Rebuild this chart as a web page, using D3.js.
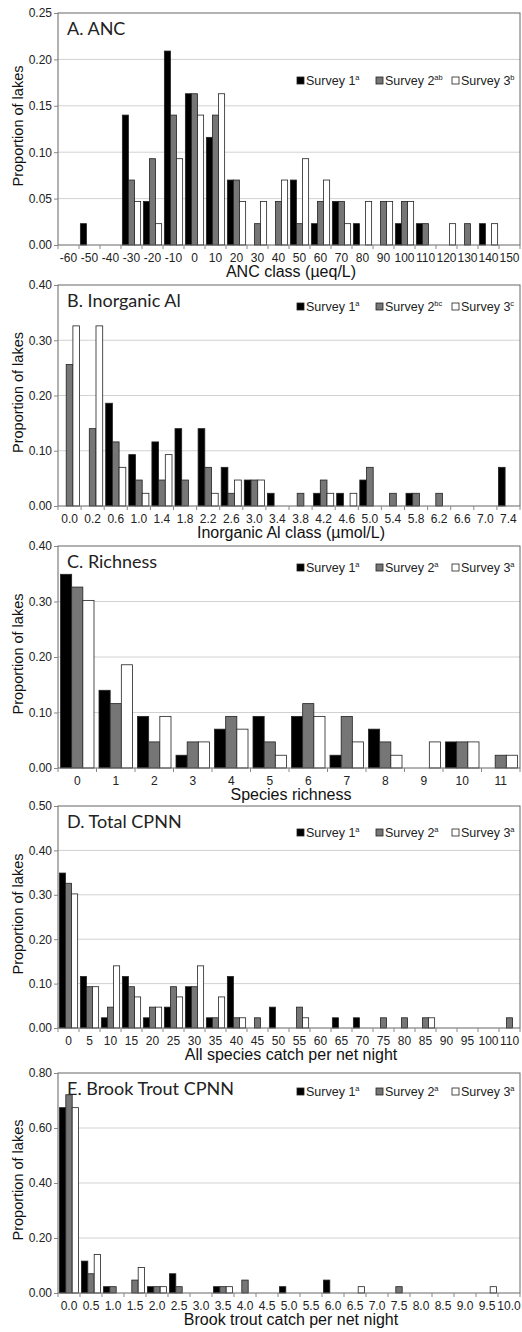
<!DOCTYPE html>
<html><head><meta charset="utf-8">
<script src="https://cdn.jsdelivr.net/npm/d3@7"></script>
<style>
body{margin:0;background:#fff;}
svg{display:block;font-family:"Liberation Sans",Arial,sans-serif;}
</style></head><body>
<svg id="chart" width="522" height="1332"></svg>
<script>
// ---- A. ANC ----
const ancClasses = ['-60','-50','-40','-30','-20','-10','0','10','20','30','40','50','60','70','80','90','100','110','120','130','140','150'];
const ancS1 = [0,.023,0,.140,.047,.209,.163,.116,.070,0,0,.070,.023,.047,.023,0,.023,.023,0,0,.023,0];
const ancS2 = [0,0,0,.070,.093,.140,.163,.140,.070,.023,.047,.023,.047,.047,0,.047,.047,.023,0,.023,0,0];
const ancS3 = [0,0,0,.047,.023,.093,.140,.163,.047,.047,.070,.093,.070,.023,.047,.047,.047,0,.023,0,.023,0];
const ancTicks = [0,.05,.10,.15,.20,.25];
const ancSup = ['a','ab','b'];

// ---- B. Inorganic Al ----
const alClasses = ['0.0','0.2','0.6','1.0','1.4','1.8','2.2','2.6','3.0','3.4','3.8','4.2','4.6','5.0','5.4','5.8','6.2','6.6','7.0','7.4'];
const alS1 = [0,0,.186,.093,.116,.140,.140,.070,.047,.023,0,.023,.023,.047,0,.023,0,0,0,.070];
const alS2 = [.256,.140,.116,.047,.047,.047,.070,.023,.047,0,.023,.047,0,.070,.023,.023,.023,0,0,0];
const alS3 = [.326,.326,.070,.023,.093,0,.023,.047,.047,0,0,.023,.023,0,0,0,0,0,0,0];
const alTicks = [0,.10,.20,.30,.40];
const alSup = ['a','bc','c'];

// ---- C. Richness ----
const richClasses = ['0','1','2','3','4','5','6','7','8','9','10','11'];
const richS1 = [.349,.140,.093,.023,.070,.093,.093,.023,.070,0,.047,0];
const richS2 = [.326,.116,.047,.047,.093,.047,.116,.093,.047,0,.047,.023];
const richS3 = [.302,.186,.093,.047,.070,.023,.093,.047,.023,.047,.047,.023];
const richTicks = [0,.10,.20,.30,.40];
const richSup = ['a','a','a'];

// ---- D. Total CPNN ----
const cpnnClasses = ['0','5','10','15','20','25','30','35','40','45','50','55','60','65','70','75','80','85','90','95','100','110'];
const cpnnS1 = [.349,.116,.023,.116,.023,.047,.093,.023,.116,0,.047,0,0,.023,.023,0,0,0,0,0,0,0];
const cpnnS2 = [.326,.093,.047,.093,.047,.093,.093,.023,.023,.023,0,.047,0,0,0,.023,.023,.023,0,0,0,.023];
const cpnnS3 = [.302,.093,.140,.070,.047,.070,.140,.070,.023,0,0,.023,0,0,0,0,0,.023,0,0,0,0];
const cpnnTicks = [0,.10,.20,.30,.40,.50];
const cpnnSup = ['a','a','a'];

// ---- E. Brook Trout CPNN ----
const troutClasses = ['0.0','0.5','1.0','1.5','2.0','2.5','3.0','3.5','4.0','4.5','5.0','5.5','6.0','6.5','7.0','7.5','8.0','8.5','9.0','9.5','10.0'];
const troutS1 = [.674,.116,.023,0,.023,.070,0,.023,0,0,.023,0,.047,0,0,0,0,0,0,0,0];
const troutS2 = [.721,.070,.023,.047,.023,.023,0,.023,.047,0,0,0,0,0,0,.023,0,0,0,0,0];
const troutS3 = [.674,.140,0,.093,.023,0,0,.023,0,0,0,0,0,.023,0,0,0,0,0,.023,0];
const troutTicks = [0,.20,.40,.60,.80];
const troutSup = ['a','a','a'];

const surveyNames = ['Survey 1','Survey 2','Survey 3'];

const panels = [
  { title: 'A. ANC', xLabel: 'ANC class (µeq/L)', cats: ancClasses, series: [ancS1, ancS2, ancS3], ticks: ancTicks, sup: ancSup, top: 13, bottom: 245, legY: 81 },
  { title: 'B. Inorganic Al', xLabel: 'Inorganic Al class (µmol/L)', cats: alClasses, series: [alS1, alS2, alS3], ticks: alTicks, sup: alSup, top: 285, bottom: 506, legY: 307 },
  { title: 'C. Richness', xLabel: 'Species richness', cats: richClasses, series: [richS1, richS2, richS3], ticks: richTicks, sup: richSup, top: 546, bottom: 768, legY: 568 },
  { title: 'D. Total CPNN', xLabel: 'All species catch per net night', cats: cpnnClasses, series: [cpnnS1, cpnnS2, cpnnS3], ticks: cpnnTicks, sup: cpnnSup, top: 806, bottom: 1028, legY: 833 },
  { title: 'E. Brook Trout CPNN', xLabel: 'Brook trout catch per net night', cats: troutClasses, series: [troutS1, troutS2, troutS3], ticks: troutTicks, sup: troutSup, top: 1073, bottom: 1293, legY: 1092 },
];

const svg = d3.select('#chart');
const L = 58, R = 520;
const fills = ['#000', '#767676', '#fff'];
const legX = [297, 376, 452];

panels.forEach(p => {
  const x = d3.scaleBand().domain(p.cats).range([L, R]);
  const xs = d3.scaleBand().domain([0, 1, 2]).range([0, x.bandwidth()]).paddingOuter(0.224);
  const y = d3.scaleLinear().domain([0, p.ticks[p.ticks.length - 1]]).range([p.bottom, p.top]);
  const g = svg.append('g');

  // grid
  g.append('g').selectAll('line').data(p.ticks.slice(1, -1)).join('line')
    .attr('x1', L).attr('x2', R).attr('y1', d => y(d)).attr('y2', d => y(d))
    .attr('stroke', '#d2d2d2');

  // bars
  p.series.forEach((s, i) => {
    g.append('g').selectAll('rect')
      .data(p.cats.map((c, j) => ({ c, v: s[j] })).filter(d => d.v > 0))
      .join('rect')
        .attr('x', d => x(d.c) + xs(i)).attr('width', xs.bandwidth())
        .attr('y', d => y(d.v)).attr('height', d => y(0) - y(d.v))
        .attr('fill', fills[i]).attr('stroke', '#222').attr('stroke-width', 0.8);
  });

  // frame
  g.append('rect').attr('x', L).attr('y', p.top).attr('width', R - L).attr('height', p.bottom - p.top)
    .attr('fill', 'none').attr('stroke', '#666');

  // y axis
  g.append('g').attr('transform', `translate(${L},0)`)
    .call(d3.axisLeft(y).tickValues(p.ticks).tickFormat(d3.format('.2f')).tickSize(4).tickPadding(2))
    .call(a => a.select('.domain').remove())
    .call(a => a.selectAll('line').attr('stroke', '#888'))
    .call(a => a.selectAll('text').attr('font-size', 12).attr('fill', '#222').attr('font-family', null));

  // x axis: labels at band centres, ticks at band edges
  g.append('g').attr('transform', `translate(0,${p.bottom})`)
    .call(d3.axisBottom(x).tickSize(0).tickPadding(8.5))
    .call(a => a.select('.domain').remove())
    .call(a => a.selectAll('text').attr('font-size', 12).attr('fill', '#222').attr('font-family', null));
  g.append('g').selectAll('line').data(p.cats.map(c => x(c)).concat([R])).join('line')
    .attr('x1', d => d).attr('x2', d => d).attr('y1', p.bottom).attr('y2', p.bottom + 4)
    .attr('stroke', '#888');

  // titles
  g.append('text').attr('x', 67).attr('y', p.top + 22)
    .attr('font-family', 'Lato, "Open Sans", sans-serif').attr('font-size', 18).attr('fill', '#222')
    .text(p.title);
  g.append('text').attr('x', (L + R) / 2 + 2).attr('y', p.bottom + 32).attr('text-anchor', 'middle')
    .attr('font-size', 16).attr('fill', '#111').text(p.xLabel);
  g.append('text').attr('transform', `translate(23,${(p.top + p.bottom) / 2 - 3}) rotate(-90)`)
    .attr('text-anchor', 'middle').attr('font-size', 14.5).attr('fill', '#111').text('Proportion of lakes');

  // legend
  const leg = g.append('g').selectAll('g').data(surveyNames).join('g')
    .attr('transform', (d, i) => `translate(${legX[i]},${p.legY})`);
  leg.append('rect').attr('x', 0).attr('y', -4).attr('width', 7).attr('height', 7)
    .attr('fill', (d, i) => fills[i]).attr('stroke', '#222').attr('stroke-width', 0.8);
  const lt = leg.append('text').attr('x', 9).attr('y', 4).attr('font-size', 12.5).attr('fill', '#222');
  lt.append('tspan').text(d => d);
  lt.append('tspan').attr('dy', -5).attr('font-size', 7.5).text((d, i) => p.sup[i]);
});
</script>
</body></html>
